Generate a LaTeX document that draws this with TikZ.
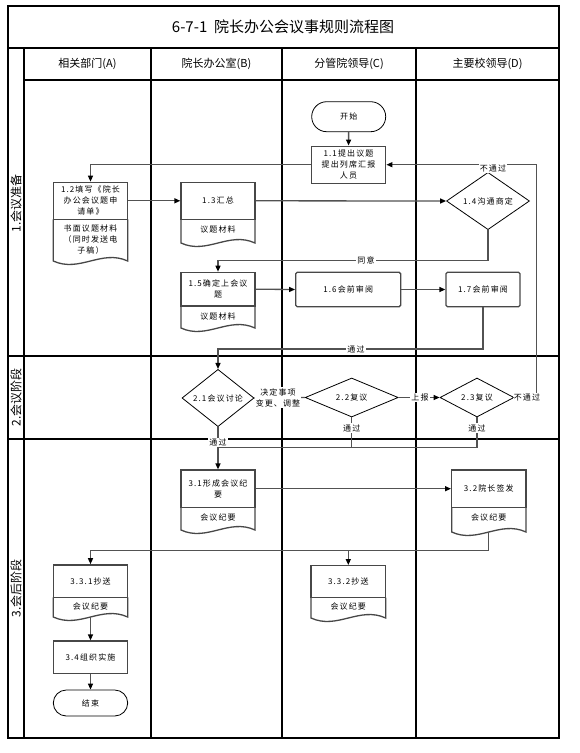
\documentclass[tikz,border=0pt]{standalone}
\usepackage{fontspec}
\setmainfont{Noto Sans CJK SC}
\newfontfamily\boxfont[LetterSpace=14]{Noto Sans CJK SC}
\usetikzlibrary{arrows.meta,shapes.geometric}
\newcommand\mywave[4]{\draw[docline] (#1,#3) -- (#1,#4) .. controls ({#1+0.35*(#2-#1)},{#4+12}) and ({#1+0.65*(#2-#1)},{#4-12}) .. (#2,#4) -- (#2,#3);}
\begin{document}
\begin{tikzpicture}[x=1pt,y=-1pt,
  txt/.style={font=\boxfont\fontsize{8}{11}\selectfont},
  procbox/.style={txt, draw=black!72, line width=1.3pt, rectangle, inner sep=0pt, align=center},
  docline/.style={draw=black!72, line width=1.3pt},
  doctxt/.style={txt, inner sep=0pt, align=center},
  decbox/.style={txt, diamond, draw=black, line width=0.8pt, inner sep=0pt, align=center},
  termbox/.style={txt, rectangle, draw=black, line width=0.8pt, inner sep=0pt},
  conn/.style={draw=black!68, line width=1.3pt},
  arr/.style={conn, -{Triangle[length=6pt,width=5pt,color=black]}},
  lbl/.style={txt, fill=white, inner sep=1pt, align=center},
  laneline/.style={draw=black, line width=1.1pt},
  head/.style={font=\fontsize{11}{11}\selectfont},
  phase/.style={font=\fontsize{12}{12}\selectfont, rotate=90}
]
\useasboundingbox (0,0) rectangle (579,753);
% frame and lanes
\draw[laneline, line width=1.4pt] (8,6) rectangle (559,738);
\draw[laneline] (8,48) -- (559,48);
\draw[laneline] (24,48) -- (24,738);
\draw[laneline] (24,80) -- (559,80);
\draw[laneline] (151,48) -- (151,738);
\draw[laneline] (282,48) -- (282,738);
\draw[laneline] (416,48) -- (416,738);
\draw[laneline] (8,356) -- (559,356);
\draw[laneline] (8,439) -- (559,439);
% title and headers
\node[font=\fontsize{15}{15}\selectfont] (title) at (283,27) {6-7-1\ \ 院长办公会议事规则流程图};
\node[head] (hA) at (87.5,64) {相关部门(A)};
\node[head] (hB) at (216.5,64) {院长办公室(B)};
\node[head] (hC) at (349,64) {分管院领导(C)};
\node[head] (hD) at (487.5,64) {主要校领导(D)};
\node[phase] (p1) at (16,203) {1.会议准备};
\node[phase] (p2) at (16,397) {2.会议阶段};
\node[phase] (p3) at (16,588) {3.会后阶段};

% phase 1
\node[termbox, rounded corners=15pt, minimum width=74pt, minimum height=30pt] (start) at (348.7,116.7) {开始};
\node[procbox, minimum width=74.5pt, minimum height=37pt] (n11) at (348.5,164.7) {1.1提出议题\\提出列席汇报\\人员};

\node[procbox, minimum width=74.4pt, minimum height=37pt] (n12) at (90.5,200.8) {1.2填写《院长\\办公会议题申\\请单》};
\mywave{53.3}{127.7}{219.3}{261}
\node[doctxt] (n12b) at (90.5,240) {书面议题材料\\（同时发送电\\子稿）};

\node[procbox, minimum width=74pt, minimum height=37pt] (n13) at (218,200.8) {1.3汇总};
\mywave{181}{255}{219.3}{243}
\node[doctxt] (n13b) at (218,229.3) {议题材料};

\node[decbox, minimum width=83pt, minimum height=44pt] (n14) at (488,201) {1.4沟通商定};

\node[procbox, minimum width=74pt, minimum height=33.7pt] (n15) at (218,289.2) {1.5确定上会议\\题};
\mywave{181}{255}{306}{328}
\node[doctxt] (n15b) at (218,316.7) {议题材料};

\node[procbox, rounded corners=1.5pt, minimum width=105pt, minimum height=34.4pt] (n16) at (348.2,289.5) {1.6会前审阅};
\node[procbox, rounded corners=1.5pt, minimum width=74pt, minimum height=34.4pt] (n17) at (483,289.5) {1.7会前审阅};

% phase 2
\node[decbox, minimum width=72pt, minimum height=37pt] (n21) at (218,398) {2.1会议讨论};
\node[decbox, minimum width=93pt, minimum height=38pt] (n22) at (351.7,397.5) {2.2复议};
\node[decbox, minimum width=74pt, minimum height=38pt] (n23) at (477,397.5) {2.3复议};

% phase 3
\node[procbox, minimum width=74pt, minimum height=37.3pt] (n31) at (218,488.7) {3.1形成会议纪\\要};
\mywave{181}{255}{507.3}{530}
\node[doctxt] (n31b) at (218,517.3) {会议纪要};

\node[procbox, minimum width=74.3pt, minimum height=37.3pt] (n32) at (488.8,488.7) {3.2院长签发};
\mywave{451.7}{526}{507.3}{532}
\node[doctxt] (n32b) at (488.8,517.3) {会议纪要};

\node[procbox, minimum width=74.4pt, minimum height=32.3pt] (n331) at (90.5,581) {3.3.1抄送};
\mywave{53.3}{127.7}{597.3}{617}
\node[doctxt] (n331b) at (90.5,606.7) {会议纪要};

\node[procbox, minimum width=74.7pt, minimum height=32pt] (n332) at (348.3,581.7) {3.3.2抄送};
\mywave{311}{385.7}{597.7}{618}
\node[doctxt] (n332b) at (348.3,606.7) {会议纪要};

\node[procbox, minimum width=74.4pt, minimum height=32.3pt] (n34) at (90.5,657.2) {3.4组织实施};
\node[termbox, rounded corners=13pt, minimum width=74.4pt, minimum height=26pt] (end) at (90.5,703) {结束};

% helper coordinates
\coordinate (c14s) at (488,260.7);
\coordinate (c17s) at (483,349);
\coordinate (c23r) at (536.7,397.5);
\coordinate (c23u) at (536.7,164.7);
\coordinate (c22s) at (351.7,447.7);
\coordinate (c23s) at (477,447.7);
\coordinate (cmerge) at (218,447.7);
\coordinate (c32w) at (488.8,532);
\coordinate (c32s) at (488.8,550.7);
\coordinate (c332t) at (348.3,550.7);
\coordinate (c331w) at (90.5,617);

% connectors
\draw[arr] (start) -- (n11);
\draw[arr] (n11.west) -| (n12.north);
\draw[arr] (n12.east) -- (n13.west);
\draw[arr] (n13.east) -- (n14.west);
\draw[conn] (c23r) -- (c23u) -- (n14.north |- c23u);
\draw[arr] (n14.north) |- (n11.east) node[lbl, pos=0.25, xshift=5pt] {不通过};
\node[lbl] (l23) at (527,397.5) {不通过};
\draw[conn] (n23.east) -- (l23.west);
\draw[arr] (n14.south) -- (c14s) -| (n15.north);
\node[lbl] (l14) at (366,260.7) {同意};
\draw[arr] (n15.east) -- (n16.west);
\draw[arr] (n16.east) -- (n17.west);
\draw[arr] (n17.south) -- (c17s) -| (n21.north);
\node[lbl] (l17) at (356,349) {通过};
\draw[conn] (n21.east) -- (n22.west);
\node[lbl] (l21) at (278,397.5) {决定事项\\变更、调整};
\draw[arr] (n22.east) -- (n23.west);
\node[lbl] (l22) at (420,397.5) {上报};
\draw[conn] (n22.south) -- (c22s) -- (cmerge);
\draw[conn] (n23.south) -- (c23s) -- (c22s);
\node[lbl] (l22s) at (351.7,428) {通过};
\node[lbl] (l23s) at (477,428) {通过};
\draw[arr] (n21.south) -- (n31.north);
\node[lbl] (l21s) at (218,442.7) {通过};
\draw[arr] (n31.east) -- (n32.west);
\draw[arr] (c32w) -- (c32s) -| (n331.north);
\draw[arr] (c332t) -- (n332.north);
\draw[arr] (c331w) -- (n34.north);
\draw[arr] (n34.south) -- (end.north);
\end{tikzpicture}
\end{document}
